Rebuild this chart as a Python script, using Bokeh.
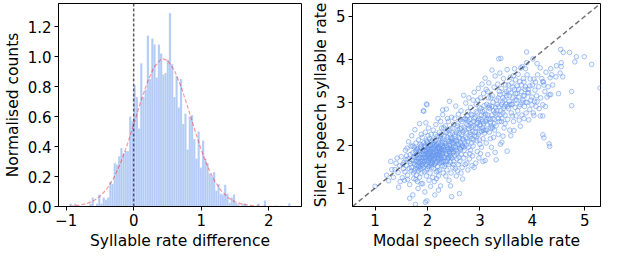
import numpy as np
from bokeh.plotting import figure
from bokeh.layouts import row
from bokeh.models import FixedTicker, Range1d, Span, NumeralTickFormatter
from bokeh.embed import file_html
from bokeh.resources import INLINE

# ---------------- left panel: histogram of syllable rate difference ----------------
bin_lo = -0.95
bin_hi = 2.32
density = [
    0.02, 0.0, 0.02, 0.0, 0.0, 0.0, 0.0, 0.0, 0.0, 0.02,
    0.06, 0.0, 0.02, 0.08, 0.02, 0.06, 0.045, 0.06, 0.165, 0.15,
    0.29, 0.28, 0.335, 0.39, 0.355, 0.37, 0.37, 0.60, 0.57, 0.81,
    0.73, 0.52, 0.955, 0.73, 0.78, 1.14, 0.85, 1.12, 1.08, 0.86,
    1.08, 1.02, 0.88, 0.89, 0.98, 1.29, 0.95, 0.73, 0.87, 0.66,
    0.85, 0.55, 0.62, 0.38, 0.60, 0.61, 0.45, 0.32, 0.50, 0.26,
    0.44, 0.32, 0.29, 0.22, 0.20, 0.23, 0.105, 0.15, 0.085, 0.08,
    0.145, 0.085, 0.025, 0.06, 0.08, 0.025, 0.015, 0.0, 0.02, 0.02,
    0.0, 0.0, 0.0, 0.0, 0.0, 0.02, 0.0, 0.0, 0.04, 0.0,
    0.0, 0.0, 0.0, 0.0, 0.0, 0.0, 0.0, 0.0, 0.0, 0.02,
]
# Gaussian fit curve
fit_x = [-0.95, -0.9, -0.8, -0.7, -0.6, -0.5, -0.4, -0.3, -0.2, -0.1, 0.0, 0.1, 0.2,
         0.3, 0.4, 0.44, 0.5, 0.6, 0.7, 0.8, 0.9, 1.0, 1.1, 1.2, 1.3, 1.4, 1.5,
         1.6, 1.7, 1.8, 1.9, 2.1, 2.32]
fit_y = [0.003, 0.004, 0.009, 0.019, 0.036, 0.067, 0.115, 0.186, 0.283, 0.405, 0.546, 0.692, 0.826,
         0.928, 0.980, 0.985, 0.974, 0.911, 0.802, 0.664, 0.517, 0.379, 0.261, 0.169, 0.103, 0.059, 0.032,
         0.016, 0.008, 0.0035, 0.0015, 0.0003, 0.0]
hist_xticks = [-1, 0, 1, 2]
hist_yticks = [0.0, 0.2, 0.4, 0.6, 0.8, 1.0, 1.2]

# ---------------- right panel: modal vs silent syllable rate ----------------
band_a = [(1.00, 1.04), (1.26, 1.17), (1.22, 1.30), (1.32, 1.43), (1.38, 1.43), (1.40, 1.58),
          (1.42, 1.70), (1.45, 1.02), (1.35, 1.25), (1.44, 1.36), (1.47, 1.52), (1.30, 1.62),
          (1.48, 1.15)]
band_b = [(1.50, 1.73), (1.52, 1.24), (1.54, 1.45), (1.55, 1.60), (1.57, 1.38), (1.58, 1.88),
          (1.60, 1.52), (1.61, 1.93), (1.62, 1.30), (1.63, 1.68), (1.64, 2.08), (1.65, 1.46),
          (1.66, 1.08), (1.66, 0.76), (1.67, 1.78), (1.68, 1.57), (1.69, 1.40), (1.56, 1.18),
          (1.59, 1.66), (1.53, 1.55), (1.62, 1.20), (1.69, 1.97), (1.66, 1.62), (1.60, 1.75)]
band_c = [(1.70, 2.22), (1.70, 1.48), (1.71, 1.65), (1.72, 0.84), (1.72, 1.82), (1.73, 1.35),
          (1.74, 1.22), (1.74, 1.58), (1.75, 1.95), (1.76, 2.36), (1.76, 1.72), (1.77, 0.62),
          (1.77, 1.45), (1.78, 1.62), (1.78, 2.05), (1.79, 1.30), (1.80, 1.78), (1.80, 1.52),
          (1.81, 1.90), (1.82, 0.99), (1.82, 1.68), (1.83, 1.40), (1.83, 2.12), (1.84, 1.58),
          (1.84, 1.85), (1.85, 2.50), (1.85, 1.25), (1.86, 1.72), (1.86, 1.50), (1.87, 1.96),
          (1.87, 1.62), (1.88, 1.35), (1.88, 2.25), (1.89, 1.80), (1.89, 1.55), (1.72, 1.98),
          (1.75, 1.40), (1.79, 1.88), (1.81, 1.15), (1.84, 1.70), (1.86, 2.02), (1.88, 1.10),
          (1.73, 1.72), (1.77, 1.85), (1.80, 1.62), (1.83, 1.50), (1.87, 1.45), (1.78, 1.20)]
band_d = [(1.90, 1.62), (1.90, 2.18), (1.91, 1.10), (1.91, 1.85), (1.92, 2.80), (1.92, 1.48),
          (1.93, 2.79), (1.93, 1.70), (1.94, 1.95), (1.94, 1.38), (1.95, 0.91), (1.95, 1.78),
          (1.96, 0.67), (1.96, 2.30), (1.96, 1.55), (1.97, 2.52), (1.97, 1.88), (1.98, 2.96),
          (1.98, 1.65), (1.98, 1.28), (1.99, 2.94), (1.99, 0.70), (1.99, 2.08), (2.00, 1.75),
          (2.00, 1.45), (2.01, 1.92), (2.01, 1.60), (2.02, 2.40), (2.02, 1.82), (2.03, 1.18),
          (2.03, 1.70), (2.04, 2.15), (2.04, 1.52), (2.05, 1.98), (2.05, 1.35), (2.06, 1.04),
          (2.06, 1.85), (2.07, 1.65), (2.07, 2.25), (2.08, 1.78), (2.08, 1.48), (2.09, 2.02),
          (2.09, 1.58), (2.10, 1.90), (2.10, 1.25), (1.91, 1.72), (1.93, 2.05), (1.95, 1.62),
          (1.97, 1.42), (1.99, 1.80), (2.01, 2.22), (2.03, 1.90), (2.05, 1.72), (2.07, 1.55),
          (2.09, 1.82), (1.94, 1.88), (1.98, 2.10), (2.02, 1.65), (2.06, 2.00), (2.00, 1.95),
          (2.04, 1.80), (1.92, 1.58), (2.08, 1.70), (1.96, 1.73), (2.10, 2.12)]
band_e = [(2.11, 1.68), (2.11, 2.35), (2.12, 1.45), (2.12, 1.95), (2.13, 1.80), (2.13, 1.15),
          (2.14, 0.84), (2.14, 2.10), (2.15, 1.58), (2.15, 1.88), (2.16, 2.48), (2.16, 1.72),
          (2.17, 1.38), (2.17, 2.02), (2.18, 1.62), (2.18, 2.20), (2.19, 1.92), (2.19, 1.50),
          (2.20, 1.78), (2.20, 2.62), (2.21, 1.28), (2.21, 2.05), (2.22, 1.85), (2.22, 1.65),
          (2.23, 2.30), (2.23, 1.42), (2.24, 1.98), (2.24, 1.75), (2.25, 1.05), (2.25, 2.15),
          (2.26, 1.60), (2.26, 1.90), (2.27, 2.40), (2.27, 1.70), (2.28, 1.52), (2.28, 2.08),
          (2.29, 2.82), (2.29, 2.71), (2.29, 1.82), (2.30, 1.35), (2.30, 1.95), (2.12, 1.75),
          (2.14, 1.55), (2.16, 1.98), (2.18, 1.82), (2.20, 1.40), (2.22, 2.12), (2.24, 1.58),
          (2.26, 2.25), (2.28, 1.88), (2.15, 2.25), (2.19, 1.70), (2.23, 1.92), (2.27, 1.62),
          (2.17, 1.22), (2.21, 0.95), (2.25, 2.55), (2.13, 2.00), (2.24, 1.85), (2.28, 1.98)]
band_f = [(2.31, 1.72), (2.32, 2.20), (2.32, 1.50), (2.33, 1.90), (2.34, 2.45), (2.34, 1.62),
          (2.35, 1.28), (2.35, 2.05), (2.36, 2.84), (2.36, 1.80), (2.37, 1.42), (2.37, 2.30),
          (2.38, 1.95), (2.38, 1.68), (2.39, 2.12), (2.40, 1.55), (2.40, 2.55), (2.41, 1.85),
          (2.41, 1.18), (2.42, 3.02), (2.42, 2.00), (2.43, 1.75), (2.43, 2.38), (2.44, 1.60),
          (2.44, 2.18), (2.45, 1.90), (2.45, 1.35), (2.46, 0.80), (2.46, 2.65), (2.47, 2.05),
          (2.47, 1.70), (2.48, 1.48), (2.48, 2.28), (2.49, 1.95), (2.49, 1.82), (2.50, 2.48),
          (2.50, 1.62), (2.33, 1.98), (2.37, 1.62), (2.39, 2.35), (2.43, 1.92), (2.47, 2.15),
          (2.35, 1.55), (2.41, 1.72), (2.45, 2.08), (2.49, 1.55), (2.38, 2.62), (2.44, 1.05),
          (2.31, 2.40), (2.46, 1.85)]
band_g = [(2.51, 2.10), (2.52, 1.75), (2.52, 2.62), (2.53, 1.45), (2.54, 2.91), (2.54, 1.95),
          (2.55, 1.28), (2.55, 2.30), (2.56, 1.68), (2.57, 2.45), (2.57, 2.02), (2.58, 1.85),
          (2.59, 1.55), (2.59, 2.72), (2.60, 2.18), (2.61, 0.87), (2.61, 1.92), (2.62, 2.38),
          (2.62, 1.62), (2.63, 2.05), (2.64, 2.80), (2.64, 1.78), (2.65, 2.25), (2.66, 1.48),
          (2.66, 2.55), (2.67, 1.21), (2.67, 1.98), (2.68, 2.12), (2.69, 3.16), (2.69, 1.70),
          (2.70, 2.42), (2.70, 1.88), (2.53, 2.20), (2.56, 2.08), (2.58, 2.35), (2.60, 1.72),
          (2.63, 2.60), (2.65, 1.95), (2.68, 2.30), (2.55, 1.88), (2.62, 2.15), (2.66, 2.00),
          (2.57, 1.40), (2.64, 1.35), (2.69, 2.60)]
band_h = [(2.71, 2.05), (2.72, 2.62), (2.73, 2.98), (2.73, 1.78), (2.74, 2.30), (2.75, 1.58),
          (2.75, 2.48), (2.76, 2.15), (2.77, 1.42), (2.77, 2.78), (2.78, 1.95), (2.79, 2.38),
          (2.80, 2.60), (2.80, 1.68), (2.81, 2.20), (2.82, 2.88), (2.82, 1.88), (2.83, 2.50),
          (2.84, 2.05), (2.85, 1.52), (2.85, 2.70), (2.86, 2.32), (2.87, 3.05), (2.87, 1.98),
          (2.88, 2.55), (2.89, 1.48), (2.89, 3.23), (2.90, 2.22), (2.74, 2.00), (2.78, 2.55),
          (2.81, 1.80), (2.84, 2.42), (2.88, 2.12), (2.76, 2.68), (2.83, 2.25), (2.72, 1.55),
          (2.86, 1.75), (2.79, 3.10)]
band_i = [(2.91, 2.65), (2.92, 1.58), (2.92, 2.40), (2.93, 2.95), (2.94, 2.10), (2.95, 2.75),
          (2.95, 1.85), (2.96, 2.52), (2.97, 3.32), (2.97, 2.25), (2.98, 1.70), (2.99, 2.88),
          (3.00, 2.45), (3.00, 2.02), (3.01, 3.10), (3.02, 2.60), (3.03, 1.95), (3.03, 2.32),
          (3.04, 3.42), (3.05, 2.78), (3.06, 2.15), (3.06, 1.62), (3.07, 2.50), (3.08, 2.92),
          (3.09, 2.28), (3.10, 3.56), (3.10, 2.35), (3.10, 1.64), (2.93, 2.20), (2.98, 2.62),
          (3.02, 2.85), (3.05, 2.40), (3.08, 2.68), (2.96, 3.05), (3.01, 1.80), (2.94, 2.52),
          (3.07, 3.20), (2.99, 2.30)]
band_j = [(3.11, 2.72), (3.12, 2.05), (3.13, 2.95), (3.14, 2.48), (3.15, 3.25), (3.15, 1.78),
          (3.16, 2.62), (3.17, 3.45), (3.18, 2.30), (3.19, 2.85), (3.20, 2.52), (3.21, 3.10),
          (3.22, 1.95), (3.23, 3.75), (3.23, 2.70), (3.24, 2.40), (3.25, 3.00), (3.26, 2.18),
          (3.27, 3.35), (3.28, 2.60), (3.29, 1.83), (3.29, 3.61), (3.30, 2.88), (3.13, 2.60),
          (3.18, 2.92), (3.22, 2.45), (3.26, 2.80), (3.16, 3.10), (3.24, 3.15), (3.28, 2.35),
          (3.20, 2.15), (3.12, 3.30)]
band_k = [(3.31, 2.45), (3.31, 1.66), (3.32, 3.05), (3.33, 2.72), (3.34, 3.42), (3.35, 2.25),
          (3.36, 4.01), (3.36, 2.90), (3.37, 2.55), (3.38, 3.68), (3.38, 3.18), (3.39, 2.02),
          (3.40, 4.02), (3.40, 2.80), (3.41, 3.32), (3.42, 2.07), (3.42, 2.62), (3.43, 3.00),
          (3.44, 2.21), (3.45, 3.55), (3.45, 2.85), (3.46, 2.40), (3.47, 3.20), (3.48, 2.70),
          (3.49, 3.40), (3.50, 2.95), (3.33, 2.95), (3.37, 3.25), (3.41, 2.55), (3.44, 3.10),
          (3.48, 2.50), (3.35, 2.62), (3.47, 2.90)]
band_l = [(3.51, 3.15), (3.52, 1.86), (3.52, 3.76), (3.53, 2.60), (3.54, 3.40), (3.55, 2.85),
          (3.56, 3.02), (3.57, 2.35), (3.58, 3.58), (3.59, 2.22), (3.59, 3.22), (3.60, 2.75),
          (3.61, 3.45), (3.62, 2.95), (3.63, 3.10), (3.64, 2.55), (3.65, 2.34), (3.66, 3.78),
          (3.66, 3.30), (3.67, 2.88), (3.68, 3.52), (3.69, 2.68), (3.70, 3.05), (3.55, 3.28),
          (3.62, 2.68), (3.68, 3.20), (3.57, 2.95), (3.64, 3.62)]
band_m = [(3.71, 3.38), (3.72, 2.80), (3.73, 3.65), (3.74, 3.12), (3.75, 2.58), (3.76, 3.48),
          (3.77, 2.44), (3.77, 2.95), (3.78, 3.80), (3.79, 3.25), (3.80, 2.70), (3.81, 3.83),
          (3.82, 3.05), (3.83, 3.55), (3.84, 3.47), (3.84, 2.62), (3.85, 2.90), (3.86, 3.30),
          (3.87, 3.78), (3.87, 3.36), (3.88, 2.75), (3.89, 4.17), (3.89, 3.92), (3.90, 3.64),
          (3.90, 2.99), (3.74, 3.30), (3.80, 3.00), (3.85, 3.15)]
band_n = [(3.91, 3.22), (3.93, 2.59), (3.93, 3.22), (3.95, 2.83), (3.96, 3.54), (3.97, 3.05),
          (3.99, 3.12), (3.99, 2.94), (4.00, 3.40), (4.01, 4.01), (4.02, 2.75), (4.03, 3.54),
          (4.03, 2.69), (4.05, 3.28), (4.06, 3.47), (4.07, 2.90), (4.08, 3.15), (4.09, 3.90),
          (4.09, 3.01), (4.10, 3.64), (3.95, 3.38), (4.04, 3.02)]
band_o = [(4.12, 3.36), (4.13, 2.85), (4.15, 2.68), (4.16, 3.10), (4.18, 3.55), (4.20, 2.24),
          (4.20, 3.48), (4.20, 2.94), (4.20, 2.68), (4.21, 3.47), (4.22, 3.40), (4.22, 2.17),
          (4.24, 3.25), (4.26, 3.70), (4.28, 3.12), (4.30, 3.36), (4.15, 3.80), (4.25, 2.90)]
band_p = [(4.32, 2.03), (4.32, 3.17), (4.33, 1.97), (4.34, 3.57), (4.35, 3.78), (4.35, 3.18),
          (4.37, 3.64), (4.39, 3.40), (4.45, 3.59), (4.46, 3.85), (4.50, 3.20), (4.53, 3.68),
          (4.54, 4.23), (4.55, 3.92), (4.55, 3.83), (4.58, 3.59), (4.59, 4.16)]
band_q = [(4.71, 4.16), (4.75, 3.25), (4.75, 2.92), (4.84, 4.06), (4.81, 3.94), (4.99, 4.06),
          (5.13, 3.88), (5.29, 3.33)]
# extra points in the dense core of the cloud
core_1 = [(1.76, 1.55), (1.78, 1.75), (1.80, 1.92), (1.81, 1.45), (1.83, 1.62), (1.85, 1.78),
          (1.86, 1.88), (1.88, 1.68), (1.89, 2.00), (1.90, 1.52), (1.92, 1.78), (1.93, 1.88),
          (1.94, 1.62), (1.95, 1.98), (1.97, 1.70), (1.98, 1.85), (1.99, 1.55), (2.00, 2.05),
          (2.01, 1.78), (2.02, 1.50), (2.03, 1.98), (2.04, 1.68), (2.05, 1.85), (2.06, 1.58),
          (2.07, 1.92), (2.08, 2.10), (2.09, 1.75), (2.10, 1.62), (2.11, 1.85), (2.12, 2.05),
          (2.13, 1.68), (2.14, 1.92), (2.15, 1.75), (2.16, 1.60), (2.17, 1.85), (2.18, 2.00),
          (2.19, 1.78), (2.20, 1.95)]
core_2 = [(2.21, 1.70), (2.22, 1.95), (2.23, 1.80), (2.24, 2.20), (2.25, 1.68), (2.26, 1.82),
          (2.27, 2.02), (2.28, 1.75), (2.29, 2.15), (2.30, 1.62), (2.31, 1.88), (2.32, 2.05),
          (2.33, 1.72), (2.34, 2.30), (2.35, 1.85), (2.36, 2.00), (2.37, 1.78), (2.38, 2.18),
          (2.39, 1.90), (2.40, 1.70), (2.41, 2.08), (2.42, 1.82), (2.43, 2.25), (2.44, 1.95),
          (2.45, 1.72), (2.46, 2.12), (2.47, 1.90), (2.48, 2.40), (2.49, 2.05), (2.50, 1.85),
          (2.52, 2.25), (2.53, 1.98), (2.55, 2.12), (2.56, 1.80), (2.58, 2.50), (2.59, 2.02),
          (2.61, 2.28), (2.63, 1.90), (2.65, 2.40), (2.67, 2.15), (2.69, 1.95)]
core_3 = [(2.71, 2.35), (2.73, 2.18), (2.75, 2.60), (2.77, 2.08), (2.79, 2.45), (2.81, 2.30),
          (2.83, 2.72), (2.85, 2.15), (2.87, 2.45), (2.89, 2.62), (2.91, 2.30), (2.93, 2.78),
          (2.95, 2.40), (2.97, 2.58), (2.99, 2.12), (3.01, 2.48), (3.03, 2.70), (3.05, 2.55),
          (3.07, 2.35), (3.09, 2.80), (3.11, 2.55), (3.13, 2.35), (3.15, 2.70), (3.17, 2.88),
          (3.19, 2.60), (3.21, 2.40), (3.23, 2.90), (3.25, 2.62), (3.27, 2.50), (3.29, 2.75)]
core_4 = [(3.32, 2.80), (3.35, 3.10), (3.38, 2.70), (3.41, 2.95), (3.44, 2.75), (3.47, 3.05),
          (3.50, 3.25), (3.53, 2.90), (3.56, 3.15), (3.60, 2.95), (3.63, 3.35), (3.67, 3.05),
          (3.71, 3.20), (3.75, 2.90), (3.79, 3.40), (3.83, 3.15), (3.88, 3.00), (3.92, 3.30)]
rate_lim = [0.57, 5.30]
rate_ticks = [1, 2, 3, 4, 5]

bands = [band_a, band_b, band_c, band_d, band_e, band_f, band_g, band_h, band_i,
         band_j, band_k, band_l, band_m, band_n, band_o, band_p, band_q,
         core_1, core_2, core_3, core_4]
modal_rate = [pt[0] for b in bands for pt in b]
silent_rate = [pt[1] for b in bands for pt in b]

FONT = "DejaVu Sans"
BLUE = "#6495ED"


def style(p):
    p.xgrid.visible = False
    p.ygrid.visible = False
    p.outline_line_color = "black"
    p.outline_line_width = 1
    p.outline_line_alpha = 1
    p.background_fill_color = "white"
    p.border_fill_color = "white"
    for ax in (p.xaxis[0], p.yaxis[0]):
        ax.axis_line_color = "black"
        ax.axis_line_width = 1
        ax.major_tick_in = 0
        ax.major_tick_out = 4
        ax.major_tick_line_color = "black"
        ax.minor_tick_line_color = None
        ax.major_label_text_font = FONT
        ax.major_label_text_font_size = "15px"
        ax.major_label_text_color = "black"
        ax.axis_label_text_font = FONT
        ax.axis_label_text_font_size = "15.5px"
        ax.axis_label_text_font_style = "normal"
        ax.axis_label_text_color = "black"
        ax.major_label_standoff = 3
        ax.axis_label_standoff = 3


H = 252
p1 = figure(width=303, height=H, output_backend="svg", toolbar_location=None,
            x_range=Range1d(-1.113, 2.485), y_range=Range1d(0, 1.354),
            min_border_left=50, min_border_right=2, min_border_top=3, min_border_bottom=40)
style(p1)
edges = np.linspace(bin_lo, bin_hi, len(density) + 1)
p1.quad(left=edges[:-1], right=edges[1:], bottom=0, top=density,
        fill_color=BLUE, fill_alpha=0.5, line_color="white", line_width=0.4, line_alpha=0.5)
p1.line(fit_x, fit_y, line_color="red", line_alpha=0.4, line_width=1.2, line_dash="4 2")
p1.add_layout(Span(location=0, dimension="height", line_color="#333333", line_alpha=0.8,
                   line_width=1.5, line_dash="3 2"))
p1.xaxis.ticker = FixedTicker(ticks=hist_xticks)
p1.xaxis.major_label_overrides = {-1: "\u22121"}
p1.yaxis.ticker = FixedTicker(ticks=hist_yticks)
p1.yaxis.formatter = NumeralTickFormatter(format="0.0")
p1.xaxis.axis_label = "Syllable rate difference"
p1.yaxis.axis_label = "Normalised counts"

p2 = figure(width=299, height=H, output_backend="svg", toolbar_location=None,
            x_range=Range1d(*rate_lim), y_range=Range1d(*rate_lim),
            min_border_left=49, min_border_right=2, min_border_top=3, min_border_bottom=40)
style(p2)
p2.scatter(modal_rate, silent_rate, marker="circle", size=4.6,
           fill_color=BLUE, fill_alpha=0.08, line_color=BLUE, line_alpha=0.55, line_width=1)
p2.line(rate_lim, rate_lim, line_color="black", line_alpha=0.55, line_width=1.5, line_dash="5 3")
p2.xaxis.ticker = FixedTicker(ticks=rate_ticks)
p2.yaxis.ticker = FixedTicker(ticks=rate_ticks)
p2.xaxis.axis_label = "Modal speech syllable rate"
p2.yaxis.axis_label = "Silent speech syllable rate"

layout = row(p1, p2)
open("out.html", "w").write(file_html(layout, INLINE))
